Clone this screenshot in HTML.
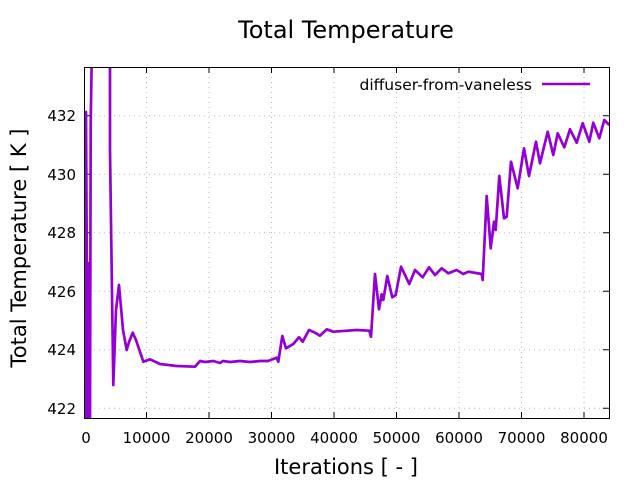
<!DOCTYPE html>
<html><head><style>body{margin:0;background:#fff}svg{display:block}text{font-family:"DejaVu Sans",sans-serif;fill:#000}</style></head>
<body>
<svg width="640" height="480" xmlns="http://www.w3.org/2000/svg">
<g stroke="#bbb" stroke-width="1" stroke-dasharray="1,4">
<line x1="146.5" y1="67" x2="146.5" y2="418"/><line x1="209" y1="67" x2="209" y2="418"/><line x1="271.5" y1="67" x2="271.5" y2="418"/><line x1="334" y1="67" x2="334" y2="418"/><line x1="396.5" y1="67" x2="396.5" y2="418"/><line x1="459" y1="67" x2="459" y2="418"/><line x1="521.5" y1="67" x2="521.5" y2="418"/><line x1="584" y1="67" x2="584" y2="418"/>
<line x1="84" y1="408.3" x2="609" y2="408.3"/><line x1="84" y1="349.8" x2="609" y2="349.8"/><line x1="84" y1="291.3" x2="609" y2="291.3"/><line x1="84" y1="232.7" x2="609" y2="232.7"/><line x1="84" y1="174.2" x2="609" y2="174.2"/><line x1="84" y1="115.7" x2="609" y2="115.7"/>
</g>
<g stroke="#000" stroke-width="1">
<path d="M146.5 418v-6M209 418v-6M271.5 418v-6M334 418v-6M396.5 418v-6M459 418v-6M521.5 418v-6M584 418v-6M146.5 67v6M209 67v6M271.5 67v6M334 67v6M396.5 67v6M459 67v6M521.5 67v6M584 67v6"/>
<path d="M84 408.3h6M84 349.8h6M84 291.3h6M84 232.7h6M84 174.2h6M84 115.7h6M609 408.3h-6M609 349.8h-6M609 291.3h-6M609 232.7h-6M609 174.2h-6M609 115.7h-6"/>
</g>
<svg x="84" y="67" width="525" height="351" viewBox="84 67 525 351" overflow="hidden">
<polyline fill="none" stroke="#9400d3" stroke-width="2.7" stroke-linejoin="round" points="86,418 86,112 87,300 88,263 88.5,418 90,418 90.7,123 91.7,60 91.7,60 110,60 110,150 113.3,385 116,310 119,285 123,330 126.7,350 129,342 132.7,332.7 136,340 143.3,361.7 150,359.3 160,364 176.7,366 195,366.7 200,361 205,362 213.3,361 220,363 223,361 230,362 240,361 250,362 260,361 268,361 276.7,357.7 278.3,361.7 282.3,336 286,348.3 293.3,344 299,337.3 302.7,341.7 309,330 315,332.7 320,335.7 326.7,329.3 333.3,331.7 356.7,330 369.3,330.7 371,336.7 375,274 379,309.3 381.7,294.3 383.3,300 387.3,276 392.3,297.3 395.7,295 401,266.7 409.3,284 415,270 422.7,277.3 429,267.3 435,275 441.7,268.3 448.3,273.3 456.7,270 463.3,274 468.3,271.7 481.7,274 482.7,280 486.7,196 490.7,248.3 494,221.7 495.7,230 499.3,176 504,218.3 506.7,216.7 511,161.7 517.7,188.3 524,148.3 529,176 536,141.7 540,163.3 547.7,131.7 553.3,155 557.7,133.3 564.3,147.3 570,129.3 576.7,142.7 582.7,123.3 589.3,141.7 593.3,122.7 599.3,138.3 604.3,120 609.3,125"/>
</svg>
<rect x="84.5" y="67.5" width="525" height="351" fill="none" stroke="#000"/>
<g font-size="15" text-anchor="end">
<text x="76" y="414">422</text><text x="76" y="355">424</text><text x="76" y="297">426</text><text x="76" y="238">428</text><text x="76" y="180">430</text><text x="76" y="121">432</text>
</g>
<g font-size="15" text-anchor="middle">
<text x="86" y="443">0</text><text x="146.5" y="443">10000</text><text x="209" y="443">20000</text><text x="271.5" y="443">30000</text><text x="334" y="443">40000</text><text x="396.5" y="443">50000</text><text x="459" y="443">60000</text><text x="521.5" y="443">70000</text><text x="584" y="443">80000</text>
</g>
<text x="532" y="90" font-size="15.5" text-anchor="end">diffuser-from-vaneless</text>
<line x1="542" y1="84" x2="590" y2="84" stroke="#9400d3" stroke-width="2.5"/>
<text x="346" y="38" font-size="24" text-anchor="middle">Total Temperature</text>
<text x="346" y="474" font-size="21" text-anchor="middle">Iterations [ - ]</text>
<text transform="translate(26,248) rotate(-90)" font-size="21" text-anchor="middle">Total Temperature [ K ]</text>
</svg>
</body></html>
